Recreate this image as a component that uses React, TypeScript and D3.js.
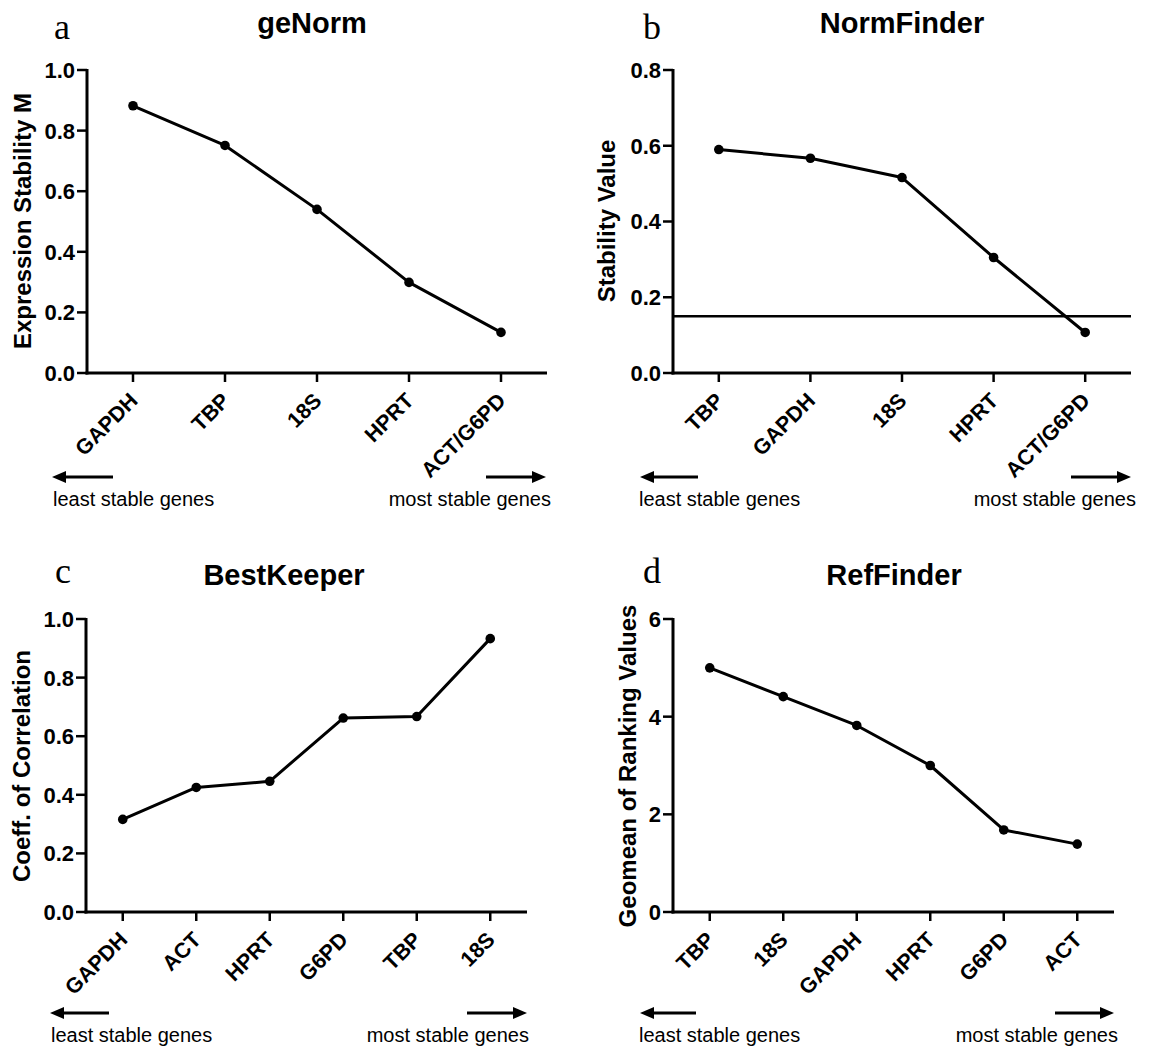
import React from "react";
import * as d3 from "d3";

// ---------- data ----------
const genormGenes = ["GAPDH", "TBP", "18S", "HPRT", "ACT/G6PD"];
const genormValues = [0.882, 0.751, 0.54, 0.299, 0.134];
const genormTicks = [0, 0.2, 0.4, 0.6, 0.8, 1.0];

const normfinderGenes = ["TBP", "GAPDH", "18S", "HPRT", "ACT/G6PD"];
const normfinderValues = [0.59, 0.567, 0.516, 0.305, 0.107];
const normfinderTicks = [0, 0.2, 0.4, 0.6, 0.8];
const normfinderCutoff = 0.15;

const bestkeeperGenes = ["GAPDH", "ACT", "HPRT", "G6PD", "TBP", "18S"];
const bestkeeperValues = [0.316, 0.425, 0.446, 0.662, 0.667, 0.933];
const bestkeeperTicks = [0, 0.2, 0.4, 0.6, 0.8, 1.0];

const reffinderGenes = ["TBP", "18S", "GAPDH", "HPRT", "G6PD", "ACT"];
const reffinderValues = [5.0, 4.41, 3.82, 3.0, 1.68, 1.39];
const reffinderTicks = [0, 2, 4, 6];

const panelTitles = ["geNorm", "NormFinder", "BestKeeper", "RefFinder"];
const panelLetters = ["a", "b", "c", "d"];
const yLabels = [
  "Expression Stability M",
  "Stability Value",
  "Coeff. of Correlation",
  "Geomean of Ranking Values",
];
const leftNote = "least stable genes";
const rightNote = "most stable genes";

// ---------- styling ----------
const SANS = "'Liberation Sans', Arial, Helvetica, sans-serif";
const SERIF = "'Liberation Serif', 'Times New Roman', serif";
const INK = "#000";

type Layout = {
  x0: number; x1: number; yTop: number; yBottom: number;
  titleX: number; titleY: number; letterX: number; letterY: number;
  ylabX: number; ylabY: number;
  arrowY: number; lArrow: [number, number]; rArrow: [number, number];
  noteY: number; leastX: number; mostX: number;
};

const layouts: Layout[] = [
  { x0: 87, x1: 547, yTop: 70, yBottom: 373, titleX: 312, titleY: 33, letterX: 54, letterY: 39,
    ylabX: 31, ylabY: 221, arrowY: 477, lArrow: [52, 113], rArrow: [486, 546],
    noteY: 506, leastX: 53, mostX: 551 },
  { x0: 673, x1: 1131, yTop: 70, yBottom: 373, titleX: 902, titleY: 33, letterX: 643, letterY: 39,
    ylabX: 615, ylabY: 221, arrowY: 477, lArrow: [640, 698], rArrow: [1071, 1131],
    noteY: 506, leastX: 639, mostX: 1136 },
  { x0: 86, x1: 527, yTop: 619, yBottom: 912, titleX: 284, titleY: 585, letterX: 55, letterY: 583,
    ylabX: 30, ylabY: 766, arrowY: 1013, lArrow: [50, 109], rArrow: [467, 527],
    noteY: 1042, leastX: 51, mostX: 529 },
  { x0: 673, x1: 1114, yTop: 619, yBottom: 912, titleX: 894, titleY: 585, letterX: 643, letterY: 583,
    ylabX: 636, ylabY: 766, arrowY: 1013, lArrow: [640, 696], rArrow: [1055, 1114],
    noteY: 1042, leastX: 639, mostX: 1118 },
];

type PanelProps = {
  idx: number;
  genes: string[];
  values: number[];
  ticks: number[];
  fmt: string;
  cutoff?: number;
};

function Arrow({ x1, x2, y, dir }: { x1: number; x2: number; y: number; dir: "left" | "right" }) {
  const head = 14;
  const half = 6;
  if (dir === "left") {
    return (
      <g>
        <line x1={x1 + head - 1} x2={x2} y1={y} y2={y} stroke={INK} strokeWidth={3} />
        <polygon points={`${x1},${y} ${x1 + head},${y - half} ${x1 + head},${y + half}`} fill={INK} />
      </g>
    );
  }
  return (
    <g>
      <line x1={x1} x2={x2 - head + 1} y1={y} y2={y} stroke={INK} strokeWidth={3} />
      <polygon points={`${x2},${y} ${x2 - head},${y - half} ${x2 - head},${y + half}`} fill={INK} />
    </g>
  );
}

function Panel({ idx, genes, values, ticks, fmt, cutoff }: PanelProps) {
  const L = layouts[idx];
  const x = d3.scalePoint<string>().domain(genes).range([L.x0, L.x1]).padding(0.5);
  const y = d3
    .scaleLinear()
    .domain([ticks[0], ticks[ticks.length - 1]])
    .range([L.yBottom, L.yTop]);
  const f = d3.format(fmt);
  const pts = genes.map((g, i) => [x(g) as number, y(values[i])] as [number, number]);
  const path = d3.line()(pts) || "";

  return (
    <g>
      {/* panel letter */}
      <text x={L.letterX} y={L.letterY} fontFamily={SERIF} fontSize={36} fill={INK}>
        {panelLetters[idx]}
      </text>
      {/* title */}
      <text x={L.titleX} y={L.titleY} textAnchor="middle" fontFamily={SANS} fontWeight="bold" fontSize={29} fill={INK}>
        {panelTitles[idx]}
      </text>
      {/* y label */}
      <text
        transform={`translate(${L.ylabX},${L.ylabY}) rotate(-90)`}
        textAnchor="middle"
        fontFamily={SANS}
        fontWeight="bold"
        fontSize={24}
        fill={INK}
      >
        {yLabels[idx]}
      </text>

      {/* y axis */}
      <line x1={L.x0} x2={L.x0} y1={L.yTop - 1} y2={L.yBottom + 1.5} stroke={INK} strokeWidth={3} />
      {ticks.map((t) => (
        <g key={"yt" + t}>
          <line x1={L.x0 - 10} x2={L.x0} y1={y(t)} y2={y(t)} stroke={INK} strokeWidth={2.5} />
          <text
            x={L.x0 - 12}
            y={y(t)}
            dy="0.36em"
            textAnchor="end"
            fontFamily={SANS}
            fontWeight="bold"
            fontSize={22}
            fill={INK}
          >
            {f(t)}
          </text>
        </g>
      ))}

      {/* x axis */}
      <line x1={L.x0 - 1.5} x2={L.x1} y1={L.yBottom} y2={L.yBottom} stroke={INK} strokeWidth={3} />
      {genes.map((g) => {
        const gx = x(g) as number;
        return (
          <g key={"xt" + g}>
            <line x1={gx} x2={gx} y1={L.yBottom} y2={L.yBottom + 9} stroke={INK} strokeWidth={2.5} />
            <text
              transform={`translate(${gx + 6},${L.yBottom + 29}) rotate(-45)`}
              textAnchor="end"
              fontFamily={SANS}
              fontWeight="bold"
              fontSize={21.5}
              fill={INK}
            >
              {g}
            </text>
          </g>
        );
      })}

      {/* cutoff line */}
      {cutoff !== undefined && (
        <line x1={L.x0} x2={L.x1} y1={y(cutoff)} y2={y(cutoff)} stroke={INK} strokeWidth={2.5} />
      )}

      {/* data */}
      <path d={path} fill="none" stroke={INK} strokeWidth={3} strokeLinejoin="round" />
      {pts.map((p, i) => (
        <circle key={"pt" + i} cx={p[0]} cy={p[1]} r={4.8} fill={INK} />
      ))}

      {/* arrows + notes */}
      <Arrow x1={L.lArrow[0]} x2={L.lArrow[1]} y={L.arrowY} dir="left" />
      <Arrow x1={L.rArrow[0]} x2={L.rArrow[1]} y={L.arrowY} dir="right" />
      <text x={L.leastX} y={L.noteY} fontFamily={SANS} fontSize={20} fill={INK}>
        {leftNote}
      </text>
      <text x={L.mostX} y={L.noteY} textAnchor="end" fontFamily={SANS} fontSize={20} fill={INK}>
        {rightNote}
      </text>
    </g>
  );
}

export default function App() {
  return (
    <div style={{ position: "absolute", left: 0, top: 0 }}>
      <svg width={1149} height={1046} viewBox="0 0 1149 1046" style={{ display: "block", background: "#fff" }}>
        <rect x={0} y={0} width={1149} height={1046} fill="#fff" />
        <Panel idx={0} genes={genormGenes} values={genormValues} ticks={genormTicks} fmt=".1f" />
        <Panel
          idx={1}
          genes={normfinderGenes}
          values={normfinderValues}
          ticks={normfinderTicks}
          fmt=".1f"
          cutoff={normfinderCutoff}
        />
        <Panel idx={2} genes={bestkeeperGenes} values={bestkeeperValues} ticks={bestkeeperTicks} fmt=".1f" />
        <Panel idx={3} genes={reffinderGenes} values={reffinderValues} ticks={reffinderTicks} fmt="d" />
      </svg>
    </div>
  );
}
